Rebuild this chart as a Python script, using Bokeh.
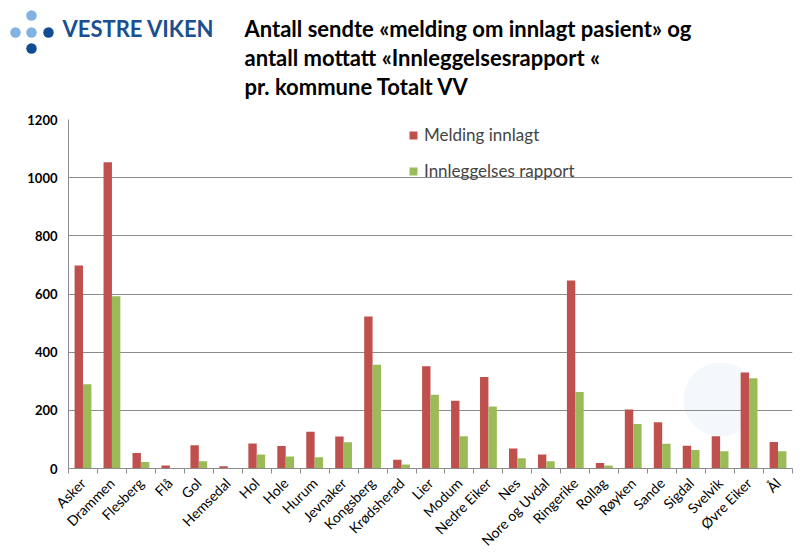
import math
from bokeh.plotting import figure
from bokeh.models import (ColumnDataSource, Range1d, LinearAxis, FixedTicker, Legend,
                          LegendItem, BoxAnnotation)
from bokeh.transform import dodge
from bokeh.core.properties import value
from bokeh.embed import file_html
from bokeh.resources import INLINE

categories = ["Asker", "Drammen", "Flesberg", "Flå", "Gol", "Hemsedal", "Hol", "Hole",
              "Hurum", "Jevnaker", "Kongsberg", "Krødsherad", "Lier", "Modum",
              "Nedre Eiker", "Nes", "Nore og Uvdal", "Ringerike", "Rollag", "Røyken",
              "Sande", "Sigdal", "Svelvik", "Øvre Eiker", "Ål"]
melding = [698, 1053, 53, 10, 80, 8, 86, 77, 126, 110, 523, 30, 352, 233, 315, 69, 48,
           646, 19, 203, 159, 78, 111, 330, 91]
rapport = [290, 592, 22, 0, 25, 2, 48, 41, 39, 90, 357, 14, 254, 111, 213, 35, 25,
           263, 10, 153, 85, 64, 59, 310, 59]
series_names = ["Melding innlagt", "Innleggelses rapport"]
y_ticks = [0, 200, 400, 600, 800, 1000, 1200]
title_lines = ["Antall sendte «melding om innlagt pasient» og",
               "antall mottatt «Innleggelsesrapport «",
               "pr. kommune Totalt VV"]
logo_text = "VESTRE VIKEN"

RED = "#C0504D"
GREEN = "#9BBB59"
GRAY = "#8c8c8c"
FONT = "Lato"

# ---------- header (logo + title), pixel coordinates ----------
H_HEAD = 104
h = figure(width=812, height=H_HEAD, x_range=Range1d(0, 812), y_range=Range1d(H_HEAD, 0),
           output_backend="svg", toolbar_location=None, x_axis_location=None,
           y_axis_location=None, min_border=0)
h.grid.visible = False
h.outline_line_color = None
dot_x = [31, 15, 31, 48, 31]
dot_y = [15, 32, 32, 32, 48]
dot_c = ["#80b3e2", "#80b3e2", "#80b3e2", "#124c92", "#124c92"]
h.scatter(x=dot_x, y=dot_y, size=10.5, fill_color=dot_c, line_color=None)
h.text(x=[62], y=[28], text=[logo_text], text_font=value(FONT), text_font_style="bold",
       text_font_size="22px", text_color="#1a4f91", text_baseline="alphabetic")
h.text(x=[244] * 3, y=[28, 57, 86], text=title_lines, text_font=value(FONT),
       text_font_style="bold", text_font_size="22px", text_color="#000000",
       text_baseline="alphabetic")

# ---------- chart ----------
n = len(categories)
src = ColumnDataSource(dict(idx=list(range(n)), cat=categories, melding=melding, rapport=rapport))

p = figure(width=812, height=557 - H_HEAD, x_range=Range1d(-0.5, n - 0.5),
           y_range=Range1d(0, 1200), output_backend="svg", toolbar_location=None,
           x_axis_location=None, y_axis_location="left", min_border_left=68,
           min_border_right=20, min_border_top=119 - H_HEAD, min_border_bottom=88)
p.outline_line_color = None

# faint decorative background circle
p.add_layout(BoxAnnotation(left=615, right=689, bottom=32, top=106, left_units="screen",
                           right_units="screen", bottom_units="screen", top_units="screen",
                           fill_color="#f4f7fc", fill_alpha=1.0, line_color=None,
                           border_radius=37, level="image"))

r1 = p.vbar(x=dodge("idx", -0.145), top="melding", width=0.29, source=src,
            fill_color=RED, line_color=None)
r2 = p.vbar(x=dodge("idx", 0.145), top="rapport", width=0.29, source=src,
            fill_color=GREEN, line_color=None)

xaxis = LinearAxis(ticker=FixedTicker(ticks=list(range(n)),
                                      minor_ticks=[i - 0.5 for i in range(n + 1)]),
                   major_label_overrides={i: c for i, c in enumerate(categories)})
xaxis.major_tick_out = 0
xaxis.major_tick_in = 0
xaxis.minor_tick_out = 5
xaxis.minor_tick_in = 0
xaxis.minor_tick_line_color = GRAY
xaxis.axis_line_color = GRAY
xaxis.major_label_orientation = math.pi / 4
xaxis.major_label_text_font = FONT
xaxis.major_label_text_font_size = "14px"
xaxis.major_label_text_color = "#000000"
xaxis.major_label_standoff = 7
p.add_layout(xaxis, "below")

yaxis = p.yaxis[0]
yaxis.ticker = FixedTicker(ticks=y_ticks)
yaxis.major_tick_out = 0
yaxis.major_tick_in = 0
yaxis.minor_tick_line_color = None
yaxis.axis_line_color = GRAY
yaxis.major_label_text_font = FONT
yaxis.major_label_text_font_style = "bold"
yaxis.major_label_text_font_size = "13px"
yaxis.major_label_text_color = "#000000"
yaxis.major_label_standoff = 11

p.xgrid.grid_line_color = None
p.ygrid.ticker = FixedTicker(ticks=y_ticks)
p.ygrid.grid_line_color = GRAY

legend = Legend(items=[LegendItem(label=series_names[0], renderers=[r1]),
                       LegendItem(label=series_names[1], renderers=[r2])],
                location=(340, 287), border_line_color=None, background_fill_alpha=0,
                glyph_width=10, glyph_height=10, label_standoff=6, spacing=15, padding=0,
                margin=0, label_text_font=FONT, label_text_font_size="17px", label_height=20)
p.add_layout(legend)

open("out.html", "w").write(file_html([h, p], INLINE))
